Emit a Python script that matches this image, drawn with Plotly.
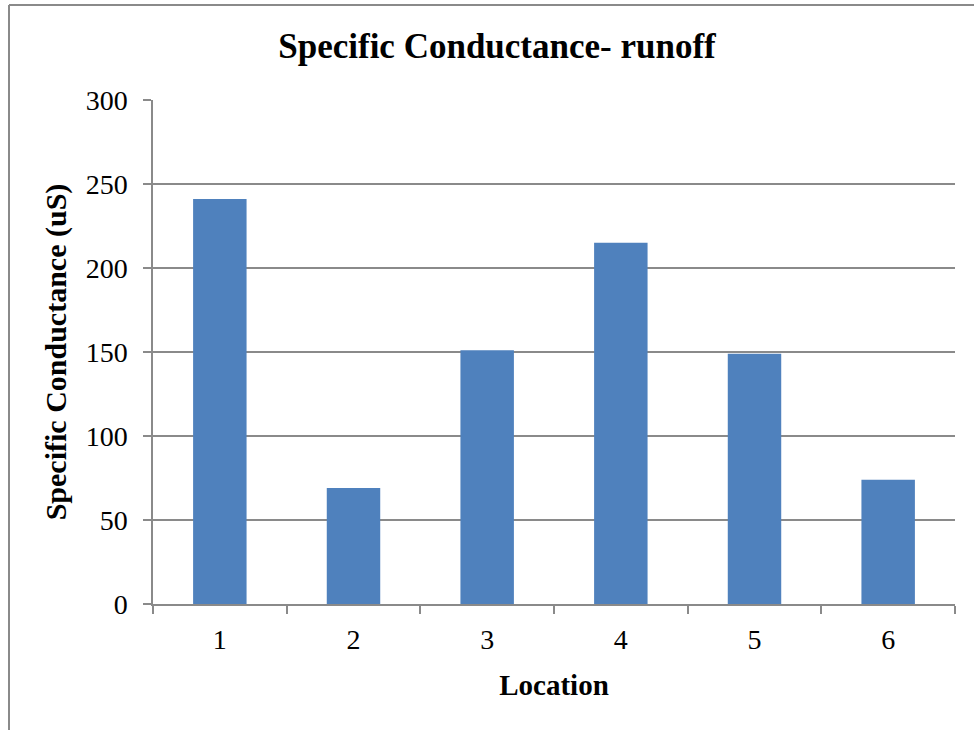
import plotly.graph_objects as go

locations = ["1", "2", "3", "4", "5", "6"]
conductance = [241, 69, 151, 215, 149, 74]
y_ticks = [0, 50, 100, 150, 200, 250, 300]

FONT = "Liberation Serif, Times New Roman, serif"
GRID = "#8a8a8a"

fig = go.Figure(go.Bar(x=locations, y=conductance, marker=dict(color="#4F81BD", line=dict(width=0))))

fig.update_layout(
    width=974, height=730,
    margin=dict(l=153, r=19, t=100, b=126),
    paper_bgcolor="white", plot_bgcolor="white",
    bargap=0.6,
    showlegend=False,
    font=dict(family=FONT, color="black", size=28),
    title=dict(text="<b>Specific Conductance- runoff</b>", x=497 / 974, xanchor="center",
               y=1 - 46 / 730, yanchor="middle", font=dict(family=FONT, size=35, color="black")),
    xaxis=dict(type="category", showline=True, linecolor=GRID, linewidth=1.5,
               ticks="outside", tickson="boundaries", ticklen=8, tickcolor=GRID, tickwidth=1.5,
               tickfont=dict(family=FONT, size=28), showgrid=False, ticklabelstandoff=10,
               title=dict(text="<b>Location</b>", font=dict(family=FONT, size=29), standoff=20)),
    yaxis=dict(range=[0, 300], tickvals=y_ticks, showline=True, linecolor=GRID, linewidth=1.5,
               ticks="outside", ticklen=8, tickcolor=GRID, tickwidth=1.5,
               showgrid=True, gridcolor=GRID, gridwidth=1.5, zeroline=False,
               tickfont=dict(family=FONT, size=28), ticklabelstandoff=10,
               title=dict(text="<b>Specific Conductance (uS)</b>", font=dict(family=FONT, size=30), standoff=10)),
)

# outer chart border (left and top edges visible)
fig.add_shape(type="line", xref="paper", yref="paper",
              x0=(9 - 153) / 802, x1=(9 - 153) / 802, y0=(730 - 5 - 126) / 504, y1=-126 / 504 - 0.01,
              line=dict(color="#8a8a8a", width=2))
fig.add_shape(type="line", xref="paper", yref="paper",
              x0=(9 - 153) / 802, x1=(980 - 153) / 802, y0=(730 - 5 - 126) / 504, y1=(730 - 5 - 126) / 504,
              line=dict(color="#8a8a8a", width=2))

fig.write_html("out.html")
